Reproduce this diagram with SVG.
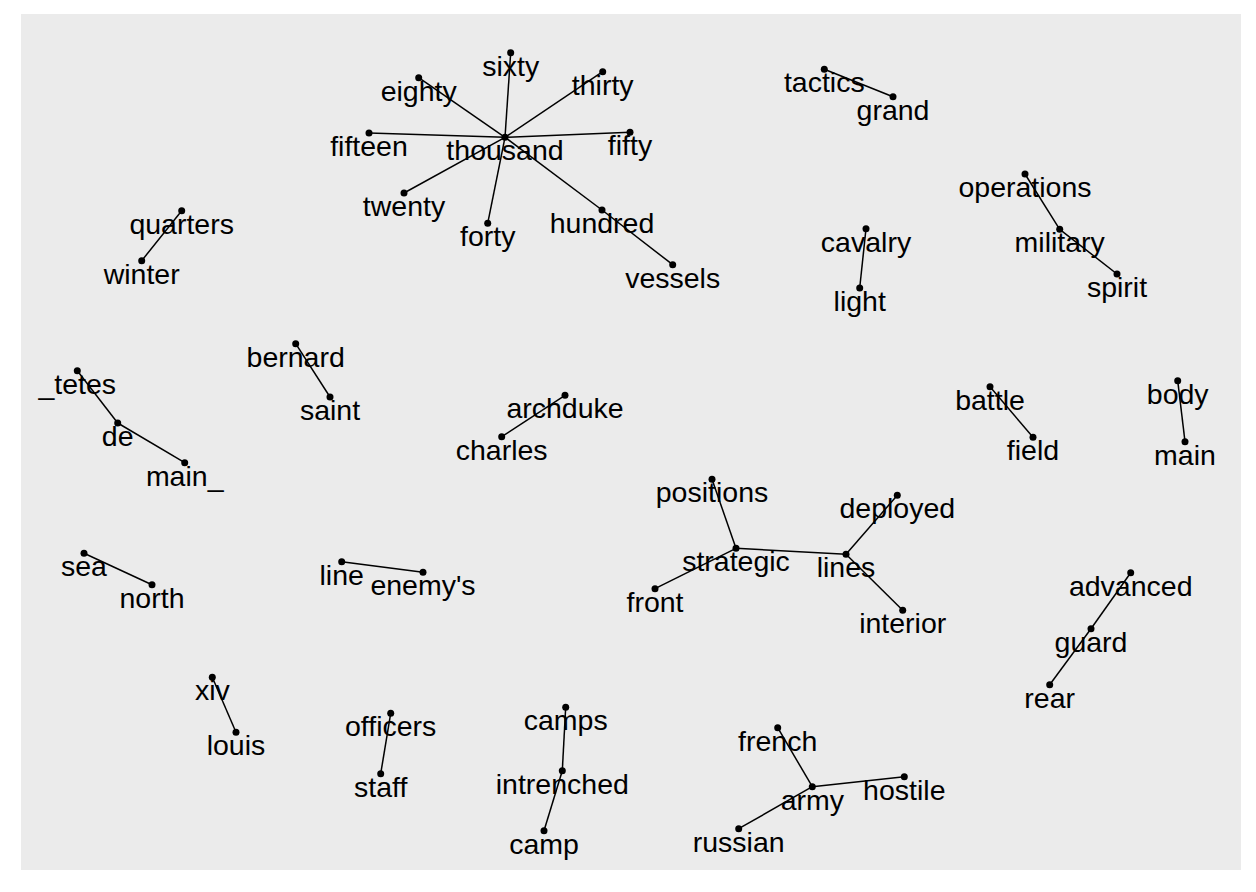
<svg xmlns="http://www.w3.org/2000/svg" width="1256" height="892" viewBox="0 0 1256 892">
<style>
.bg{fill:#FFFFFF}
.panel{fill:#EBEBEB}
.edges line{stroke:#000000;stroke-width:1.5;stroke-linecap:butt}
.node circle{fill:#000000}
.node text{font-family:"Liberation Sans",Arial,sans-serif;font-size:28.5px;fill:#000000;text-anchor:middle}
</style>
<rect class="bg" x="0" y="0" width="1256" height="892"/>
<rect class="panel" x="21" y="14" width="1220" height="856"/>
<g id="connectors" class="edges">
<line x1="505" y1="137.3" x2="510.7" y2="52.7"/>
<line x1="505" y1="137.3" x2="418.7" y2="77.7"/>
<line x1="505" y1="137.3" x2="602.7" y2="71.7"/>
<line x1="505" y1="137.3" x2="369" y2="133"/>
<line x1="505" y1="137.3" x2="630" y2="132.3"/>
<line x1="505" y1="137.3" x2="404" y2="193"/>
<line x1="505" y1="137.3" x2="487.7" y2="223.3"/>
<line x1="505" y1="137.3" x2="602" y2="210"/>
<line x1="602" y1="210" x2="672.7" y2="264.7"/>
<line x1="824.3" y1="69.3" x2="893" y2="96.7"/>
<line x1="1025" y1="174" x2="1059.7" y2="229.3"/>
<line x1="1059.7" y1="229.3" x2="1117" y2="274"/>
<line x1="866" y1="228.7" x2="859.7" y2="288"/>
<line x1="181.7" y1="210.7" x2="141.7" y2="260.7"/>
<line x1="77.3" y1="370.7" x2="117.7" y2="423"/>
<line x1="117.7" y1="423" x2="184.7" y2="462.7"/>
<line x1="295.7" y1="343.7" x2="330" y2="397"/>
<line x1="565" y1="395.3" x2="501.7" y2="436.7"/>
<line x1="990" y1="386.7" x2="1033" y2="437.3"/>
<line x1="1177.7" y1="380.7" x2="1185" y2="441.7"/>
<line x1="712" y1="479.3" x2="736" y2="548.3"/>
<line x1="736" y1="548.3" x2="846" y2="554.3"/>
<line x1="736" y1="548.3" x2="655" y2="588.7"/>
<line x1="846" y1="554.3" x2="897.3" y2="495.3"/>
<line x1="846" y1="554.3" x2="902.7" y2="610.3"/>
<line x1="84" y1="553.3" x2="152" y2="584.7"/>
<line x1="341.7" y1="561.7" x2="423" y2="572.3"/>
<line x1="1130.7" y1="572.7" x2="1091" y2="628.7"/>
<line x1="1091" y1="628.7" x2="1049.7" y2="684.7"/>
<line x1="212.3" y1="677.3" x2="236" y2="732.3"/>
<line x1="390.7" y1="713.3" x2="380.7" y2="773.7"/>
<line x1="565.7" y1="707.3" x2="562.3" y2="770.7"/>
<line x1="562.3" y1="770.7" x2="544" y2="830.7"/>
<line x1="777.7" y1="727.7" x2="812.3" y2="786.7"/>
<line x1="812.3" y1="786.7" x2="904.3" y2="776.7"/>
<line x1="812.3" y1="786.7" x2="738.7" y2="828.7"/>
</g>
<g id="n-thousand" class="node"><circle cx="505" cy="137.3" r="3.5"/><text x="505" y="160.3">thousand</text></g>
<g id="n-sixty" class="node"><circle cx="510.7" cy="52.7" r="3.5"/><text x="510.7" y="75.7">sixty</text></g>
<g id="n-eighty" class="node"><circle cx="418.7" cy="77.7" r="3.5"/><text x="418.7" y="100.7">eighty</text></g>
<g id="n-thirty" class="node"><circle cx="602.7" cy="71.7" r="3.5"/><text x="602.7" y="94.7">thirty</text></g>
<g id="n-fifteen" class="node"><circle cx="369" cy="133" r="3.5"/><text x="369" y="156">fifteen</text></g>
<g id="n-fifty" class="node"><circle cx="630" cy="132.3" r="3.5"/><text x="630" y="155.3">fifty</text></g>
<g id="n-twenty" class="node"><circle cx="404" cy="193" r="3.5"/><text x="404" y="216">twenty</text></g>
<g id="n-forty" class="node"><circle cx="487.7" cy="223.3" r="3.5"/><text x="487.7" y="246.3">forty</text></g>
<g id="n-hundred" class="node"><circle cx="602" cy="210" r="3.5"/><text x="602" y="233">hundred</text></g>
<g id="n-vessels" class="node"><circle cx="672.7" cy="264.7" r="3.5"/><text x="672.7" y="287.7">vessels</text></g>
<g id="n-tactics" class="node"><circle cx="824.3" cy="69.3" r="3.5"/><text x="824.3" y="92.3">tactics</text></g>
<g id="n-grand" class="node"><circle cx="893" cy="96.7" r="3.5"/><text x="893" y="119.7">grand</text></g>
<g id="n-operations" class="node"><circle cx="1025" cy="174" r="3.5"/><text x="1025" y="197">operations</text></g>
<g id="n-military" class="node"><circle cx="1059.7" cy="229.3" r="3.5"/><text x="1059.7" y="252.3">military</text></g>
<g id="n-spirit" class="node"><circle cx="1117" cy="274" r="3.5"/><text x="1117" y="297">spirit</text></g>
<g id="n-cavalry" class="node"><circle cx="866" cy="228.7" r="3.5"/><text x="866" y="251.7">cavalry</text></g>
<g id="n-light" class="node"><circle cx="859.7" cy="288" r="3.5"/><text x="859.7" y="311">light</text></g>
<g id="n-quarters" class="node"><circle cx="181.7" cy="210.7" r="3.5"/><text x="181.7" y="233.7">quarters</text></g>
<g id="n-winter" class="node"><circle cx="141.7" cy="260.7" r="3.5"/><text x="141.7" y="283.7">winter</text></g>
<g id="n-tetes" class="node"><circle cx="77.3" cy="370.7" r="3.5"/><text x="77.3" y="393.7">_tetes</text></g>
<g id="n-de" class="node"><circle cx="117.7" cy="423" r="3.5"/><text x="117.7" y="446">de</text></g>
<g id="n-main_" class="node"><circle cx="184.7" cy="462.7" r="3.5"/><text x="184.7" y="485.7">main_</text></g>
<g id="n-bernard" class="node"><circle cx="295.7" cy="343.7" r="3.5"/><text x="295.7" y="366.7">bernard</text></g>
<g id="n-saint" class="node"><circle cx="330" cy="397" r="3.5"/><text x="330" y="420">saint</text></g>
<g id="n-archduke" class="node"><circle cx="565" cy="395.3" r="3.5"/><text x="565" y="418.3">archduke</text></g>
<g id="n-charles" class="node"><circle cx="501.7" cy="436.7" r="3.5"/><text x="501.7" y="459.7">charles</text></g>
<g id="n-battle" class="node"><circle cx="990" cy="386.7" r="3.5"/><text x="990" y="409.7">battle</text></g>
<g id="n-field" class="node"><circle cx="1033" cy="437.3" r="3.5"/><text x="1033" y="460.3">field</text></g>
<g id="n-body" class="node"><circle cx="1177.7" cy="380.7" r="3.5"/><text x="1177.7" y="403.7">body</text></g>
<g id="n-main" class="node"><circle cx="1185" cy="441.7" r="3.5"/><text x="1185" y="464.7">main</text></g>
<g id="n-positions" class="node"><circle cx="712" cy="479.3" r="3.5"/><text x="712" y="502.3">positions</text></g>
<g id="n-strategic" class="node"><circle cx="736" cy="548.3" r="3.5"/><text x="736" y="571.3">strategic</text></g>
<g id="n-lines" class="node"><circle cx="846" cy="554.3" r="3.5"/><text x="846" y="577.3">lines</text></g>
<g id="n-deployed" class="node"><circle cx="897.3" cy="495.3" r="3.5"/><text x="897.3" y="518.3">deployed</text></g>
<g id="n-interior" class="node"><circle cx="902.7" cy="610.3" r="3.5"/><text x="902.7" y="633.3">interior</text></g>
<g id="n-front" class="node"><circle cx="655" cy="588.7" r="3.5"/><text x="655" y="611.7">front</text></g>
<g id="n-sea" class="node"><circle cx="84" cy="553.3" r="3.5"/><text x="84" y="576.3">sea</text></g>
<g id="n-north" class="node"><circle cx="152" cy="584.7" r="3.5"/><text x="152" y="607.7">north</text></g>
<g id="n-line" class="node"><circle cx="341.7" cy="561.7" r="3.5"/><text x="341.7" y="584.7">line</text></g>
<g id="n-enemys" class="node"><circle cx="423" cy="572.3" r="3.5"/><text x="423" y="595.3">enemy's</text></g>
<g id="n-advanced" class="node"><circle cx="1130.7" cy="572.7" r="3.5"/><text x="1130.7" y="595.7">advanced</text></g>
<g id="n-guard" class="node"><circle cx="1091" cy="628.7" r="3.5"/><text x="1091" y="651.7">guard</text></g>
<g id="n-rear" class="node"><circle cx="1049.7" cy="684.7" r="3.5"/><text x="1049.7" y="707.7">rear</text></g>
<g id="n-xiv" class="node"><circle cx="212.3" cy="677.3" r="3.5"/><text x="212.3" y="700.3">xiv</text></g>
<g id="n-louis" class="node"><circle cx="236" cy="732.3" r="3.5"/><text x="236" y="755.3">louis</text></g>
<g id="n-officers" class="node"><circle cx="390.7" cy="713.3" r="3.5"/><text x="390.7" y="736.3">officers</text></g>
<g id="n-staff" class="node"><circle cx="380.7" cy="773.7" r="3.5"/><text x="380.7" y="796.7">staff</text></g>
<g id="n-camps" class="node"><circle cx="565.7" cy="707.3" r="3.5"/><text x="565.7" y="730.3">camps</text></g>
<g id="n-intrenched" class="node"><circle cx="562.3" cy="770.7" r="3.5"/><text x="562.3" y="793.7">intrenched</text></g>
<g id="n-camp" class="node"><circle cx="544" cy="830.7" r="3.5"/><text x="544" y="853.7">camp</text></g>
<g id="n-french" class="node"><circle cx="777.7" cy="727.7" r="3.5"/><text x="777.7" y="750.7">french</text></g>
<g id="n-army" class="node"><circle cx="812.3" cy="786.7" r="3.5"/><text x="812.3" y="809.7">army</text></g>
<g id="n-hostile" class="node"><circle cx="904.3" cy="776.7" r="3.5"/><text x="904.3" y="799.7">hostile</text></g>
<g id="n-russian" class="node"><circle cx="738.7" cy="828.7" r="3.5"/><text x="738.7" y="851.7">russian</text></g>
</svg>
